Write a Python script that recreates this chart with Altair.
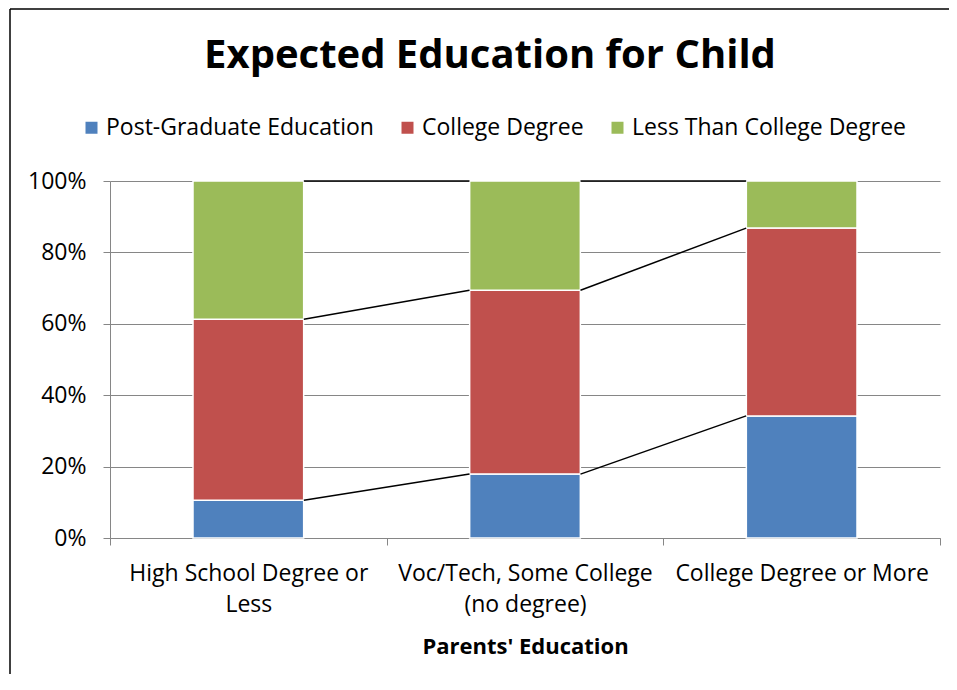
import altair as alt
import pandas as pd

categories = ["High School Degree or\nLess", "Voc/Tech, Some College\n(no degree)", "College Degree or More"]
series = ["Post-Graduate Education", "College Degree", "Less Than College Degree"]
post_grad = [0.106, 0.179, 0.342]
college = [0.507, 0.515, 0.526]
less_than = [0.387, 0.306, 0.132]
colors = ["#4F81BD", "#C0504D", "#9BBB59"]
y_ticks = [0, 0.2, 0.4, 0.6, 0.8, 1.0]

FONT = "Open Sans"

values_by_series = [post_grad, college, less_than]
rows = []
for si, (s, vals) in enumerate(zip(series, values_by_series)):
    for ci, c in enumerate(categories):
        rows.append({"category": c, "series": s, "value": vals[ci], "order": si})
bars_df = pd.DataFrame(rows)

# series lines connecting tops of each stacked segment
cum = []
run = [0.0] * len(categories)
for vals in values_by_series:
    run = [r + v for r, v in zip(run, vals)]
    cum.append(list(run))
line_rows = []
for si, s in enumerate(series):
    for ci in range(len(categories) - 1):
        line_rows.append({"c1": categories[ci], "c2": categories[ci + 1],
                          "y1": cum[si][ci], "y2": cum[si][ci + 1]})
lines_df = pd.DataFrame(line_rows)

x_scale = alt.Scale(domain=categories, paddingInner=0, paddingOuter=0)

bars = alt.Chart(bars_df).mark_bar(
    width=alt.RelativeBandSize(0.4), stroke="white", strokeWidth=1.5
).encode(
    x=alt.X("category:N", scale=x_scale, sort=categories,
            axis=alt.Axis(title="Parents' Education", labelAngle=0, tickBand="extent",
                          labelExpr="split(datum.label, '\\n')",
                          labelFontSize=23, labelFont=FONT, labelColor="#000000",
                          labelLineHeight=31, labelPadding=17, labelLimit=0, tickSize=7,
                          tickColor="#868686", domainColor="#868686",
                          titleFont=FONT, titleFontSize=22, titleFontWeight="bold",
                          titleColor="#000000", titlePadding=20, grid=False)),
    y=alt.Y("value:Q", stack="zero",
            scale=alt.Scale(domain=[0, 1], nice=False),
            axis=alt.Axis(title=None, values=y_ticks, format=".0%",
                          labelFontSize=23, labelFont=FONT, labelColor="#000000",
                          labelPadding=17, tickSize=7, tickColor="#868686",
                          domainColor="#868686", gridColor="#868686", grid=True)),
    color=alt.Color("series:N", scale=alt.Scale(domain=series, range=colors),
                    legend=alt.Legend(title=None, orient="none", direction="horizontal",
                                      legendX=-30, legendY=-65, symbolType="square",
                                      symbolSize=144, symbolStrokeWidth=0,
                                      labelFontSize=23, labelFont=FONT, labelLimit=0,
                                      labelColor="#000000", columnPadding=22,
                                      labelOffset=3)),
    order=alt.Order("order:Q"),
)

lines = alt.Chart(lines_df).mark_rule(
    color="black", strokeWidth=1.5, xOffset=55.5, x2Offset=-55.5
).encode(
    x=alt.X("c1:N", scale=x_scale, sort=categories),
    x2="c2:N",
    y="y1:Q",
    y2="y2:Q",
)

one = pd.DataFrame({"k": [0]})
border_left = alt.Chart(one).mark_rule(color="black", strokeWidth=1.5).encode(
    x=alt.value(-100), y=alt.value(-172), y2=alt.value(540)
)
border_top = alt.Chart(one).mark_rule(color="black", strokeWidth=1.5).encode(
    x=alt.value(-100), x2=alt.value(839), y=alt.value(-172)
)

chart = alt.layer(bars, lines, border_left, border_top).properties(
    width=830, height=357,
    autosize=alt.AutoSizeParams(type="none"),
    padding={"left": 102, "top": 173, "right": 9, "bottom": 136},
    title=alt.TitleParams("Expected Education for Child", fontSize=40, font=FONT,
                          fontWeight="bold", color="#000000", dx=-35, offset=-68),
).configure_view(stroke=None)

chart.save("out.html", embed_options={"renderer": "svg", "actions": False})
